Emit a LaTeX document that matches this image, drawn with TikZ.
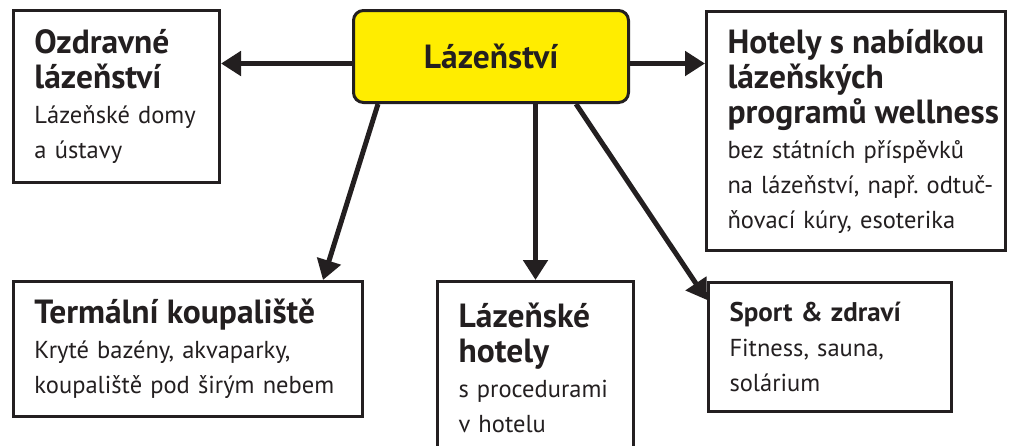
\documentclass[tikz,border=0pt]{standalone}
\usepackage{fontspec}
\setmainfont{PT Sans}[WordSpace=0.8]
\usepackage{xcolor}
\usetikzlibrary{arrows.meta,positioning,calc}
\definecolor{spayellow}{HTML}{FFED00}
\definecolor{spaink}{HTML}{231F20}
\newcommand{\hd}{\fontsize{33.5}{35}\selectfont\bfseries}
\frenchspacing
\tikzset{
  catbox/.style={draw=spaink, line width=3pt, fill=white, anchor=north west, align=left,
    inner xsep=2pt, inner ysep=0pt, text=spaink,
    font=\fontsize{24.5}{35}\selectfont, execute at begin node={\leftskip=19pt\relax}},
  hubbox/.style={draw=spaink, line width=3pt, fill=spayellow, rounded corners=10pt, anchor=north west,
    text=spaink, font=\fontsize{33.5}{35}\selectfont\bfseries},
  line/.style={draw=spaink, line width=5pt, -{Triangle[length=20pt,width=24pt]}}
}

\begin{document}
\begin{tikzpicture}[x=1pt,y=-1pt]
  \useasboundingbox (0,0) rectangle (1011,445);
  \node[hubbox, minimum width=275pt, minimum height=92pt] (hub) at (352,9) {Lázeňství};
  \node[catbox, text width=202pt, minimum height=172pt] (ozd) at (12,9)
    {{\hd Ozdravné\\lázeňství}\\Lázeňské domy\\a ústavy};
  \node[catbox, text width=295pt, minimum height=239pt] (hot) at (705,10)
    {{\hd Hotely s nabídkou\\lázeňských\\programů wellness}\\bez státních příspěvků\\na lázeňství, např. odtuč-\\ňovací kúry, esoterika};
  \node[catbox, text width=345pt, minimum height=135pt] (term) at (12,280)
    {{\hd Termální koupaliště}\\Kryté bazény, akvaparky,\\koupaliště pod širým nebem};
  \node[catbox, text width=192pt, minimum height=172pt] (lhot) at (436,280)
    {{\hd Lázeňské\\hotely}\\s procedurami\\v hotelu};
  \node[catbox, text width=239pt, minimum height=129pt] (sport) at (707,281)
    {{\fontsize{27}{35}\selectfont\bfseries Sport \& zdraví}\\Fitness, sauna,\\solárium};

  % connectors
  \coordinate (hubL) at ([yshift=-7pt]hub.west);
  \coordinate (hubR) at ([yshift=-7pt]hub.east);
  \draw[line] (hubL) -- (hubL -| ozd.east);
  \draw[line] (hubR) -- (hubR -| hot.west);
  \draw[line] ([xshift=26pt]hub.south west) -- ([xshift=-41pt]term.north east);
  \draw[line] (lhot.north |- hub.south) -- (lhot.north);
  \draw[line] ([xshift=-54pt]hub.south east) -- ([yshift=-19pt]sport.north west);
\end{tikzpicture}
\end{document}
